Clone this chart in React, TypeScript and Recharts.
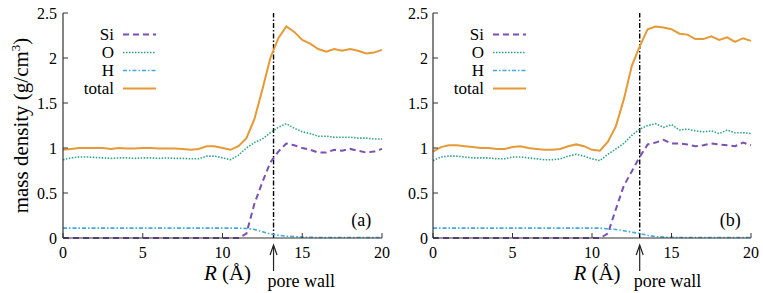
import React from 'react';
import { LineChart, Line, XAxis, YAxis, ReferenceLine, ReferenceDot } from 'recharts';

const FONT = "'Liberation Serif', 'DejaVu Serif', 'Times New Roman', Times, serif";
const FRAME = '#333';

// radial distance R (Å)
const R = [
  0, 0.5, 1, 1.5, 2, 2.5, 3, 3.5, 4, 4.5, 5, 5.5, 6, 6.5, 7, 7.5, 8, 8.5, 9, 9.5,
  10, 10.5, 11, 11.5, 12, 12.5, 13, 13.5, 14, 14.5, 15, 15.5, 16, 16.5, 17, 17.5, 18, 18.5, 19, 19.5, 20,
];

// panel (a)
const siA = [
  0, 0, 0, 0, 0, 0, 0, 0, 0, 0, 0, 0, 0, 0, 0, 0, 0, 0, 0, 0, 0, 0, 0,
  0.05, 0.38, 0.62, 0.84, 0.96, 1.05, 1.03, 1.0, 0.98, 0.95, 0.95, 0.98, 0.97, 0.99, 0.97, 0.95, 0.96, 0.99,
];
const oA = [
  0.87, 0.89, 0.9, 0.9, 0.895, 0.89, 0.885, 0.89, 0.89, 0.885, 0.89, 0.89, 0.885, 0.89, 0.885, 0.885, 0.88, 0.88, 0.91, 0.91,
  0.89, 0.87, 0.92, 1.0, 1.06, 1.1, 1.17, 1.23, 1.27, 1.22, 1.18, 1.16, 1.13, 1.13, 1.12, 1.12, 1.12, 1.11, 1.11, 1.1, 1.1,
];
const hA = [
  0.11, 0.11, 0.11, 0.11, 0.11, 0.11, 0.11, 0.11, 0.11, 0.11, 0.11, 0.11, 0.11, 0.11, 0.11, 0.11, 0.11, 0.11, 0.11, 0.11,
  0.11, 0.11, 0.11, 0.105, 0.095, 0.07, 0.045, 0.03, 0.02, 0.015, 0.01, 0.008,
  0.005, 0.005, 0.005, 0.005, 0.005, 0.005, 0.005, 0.005, 0.005,
];
const totalA = [
  0.98, 0.99, 1.0, 1.0, 1.0, 1.0, 0.99, 1.0, 0.995, 0.995, 1.0, 1.0, 0.995, 0.995, 0.995, 0.99, 0.98, 0.99, 1.02, 1.02,
  1.0, 0.98, 1.02, 1.11, 1.32, 1.65, 2.0, 2.22, 2.35, 2.29, 2.2, 2.16, 2.1, 2.07, 2.1, 2.08, 2.1, 2.08, 2.05, 2.06, 2.09,
];

// panel (b)
const siB = [
  0, 0, 0, 0, 0, 0, 0, 0, 0, 0, 0, 0, 0, 0, 0, 0, 0, 0, 0, 0, 0, 0,
  0.05, 0.32, 0.58, 0.74, 0.9, 1.04, 1.06, 1.09, 1.05, 1.05, 1.04, 1.02, 1.03, 1.05, 1.04, 1.03, 1.02, 1.06, 1.03,
];
const oB = [
  0.86, 0.9, 0.91, 0.91, 0.9, 0.89, 0.89, 0.89, 0.88, 0.88, 0.9, 0.9, 0.89, 0.88, 0.87, 0.87, 0.88, 0.91, 0.93, 0.91,
  0.88, 0.86, 0.93, 0.99, 1.05, 1.14, 1.21, 1.25, 1.27, 1.23, 1.26, 1.2, 1.21, 1.19, 1.18, 1.19, 1.16, 1.2, 1.17, 1.17, 1.16,
];
const hB = [
  0.11, 0.11, 0.11, 0.11, 0.11, 0.11, 0.11, 0.11, 0.11, 0.11, 0.11, 0.11, 0.11, 0.11, 0.11, 0.11, 0.11, 0.11, 0.11, 0.11,
  0.11, 0.11, 0.1, 0.095, 0.08, 0.065, 0.05, 0.03, 0.015, 0.01, 0.008,
  0.005, 0.005, 0.005, 0.005, 0.005, 0.005, 0.005, 0.005, 0.005, 0.005,
];
const totalB = [
  0.96, 1.01, 1.03, 1.03, 1.02, 1.01, 1.0, 1.0, 0.99, 0.99, 1.01, 1.02, 1.0, 0.99, 0.98, 0.98, 0.99, 1.02, 1.04, 1.02,
  0.98, 0.97, 1.07, 1.24, 1.54, 1.91, 2.13, 2.32, 2.35, 2.34, 2.32, 2.27, 2.26, 2.21, 2.21, 2.24, 2.2, 2.23, 2.18, 2.22, 2.19,
];

const xTicks = [0, 5, 10, 15, 20];
const yTicks = [0, 0.5, 1, 1.5, 2, 2.5];

const series = [
  { key: 'si', name: 'Si', color: '#7b4fb5', dash: '6 4', width: 2 },
  { key: 'o', name: 'O', color: '#2fa57c', dash: '1.5 1.5', width: 1.6 },
  { key: 'h', name: 'H', color: '#3fa9e0', dash: '4 2 1.5 2', width: 1.6 },
  { key: 'total', name: 'total', color: '#e69a35', dash: undefined, width: 2 },
];

const build = (si: number[], o: number[], h: number[], total: number[]) =>
  R.map((r, i) => ({ r, si: si[i], o: o[i], h: h[i], total: total[i] }));

const dataA = build(siA, oA, hA, totalA);
const dataB = build(siB, oB, hB, totalB);

const PoreWall = (props: any) => {
  const { viewBox } = props;
  const x = viewBox.x;
  const bottom = viewBox.y + viewBox.height;
  return (
    <g>
      <line x1={x} y1={bottom + 8} x2={x} y2={bottom + 33} stroke="#222" strokeWidth={1.2} />
      <path
        d={`M${x - 3.5},${bottom + 17} L${x},${bottom + 7} L${x + 3.5},${bottom + 17}`}
        fill="none"
        stroke="#222"
        strokeWidth={1.2}
      />
      <text x={x - 6} y={bottom + 49} fontSize={18} fontFamily={FONT} fill="#000">
        pore wall
      </text>
    </g>
  );
};

const YLabel = (props: any) => {
  const { viewBox } = props;
  const cx = viewBox.x + 28;
  const cy = viewBox.y + viewBox.height / 2;
  return (
    <text
      x={cx}
      y={cy}
      transform={`rotate(-90, ${cx}, ${cy})`}
      textAnchor="middle"
      fontSize={21}
      fontFamily={FONT}
      fill="#000"
    >
      mass density (g/cm
      <tspan dy={-8} fontSize={13}>3</tspan>
      <tspan dy={8}>)</tspan>
    </text>
  );
};

const XLabel = (props: any) => {
  const { viewBox } = props;
  return (
    <text
      x={viewBox.x + viewBox.width / 2 + 5}
      y={viewBox.y + 42}
      textAnchor="middle"
      fontSize={21}
      fontFamily={FONT}
      fill="#000"
    >
      <tspan fontStyle="italic">R</tspan> (Å)
    </text>
  );
};

const LegendBox = ({ left, top }: { left: number; top: number }) => (
  <svg
    width={110}
    height={95}
    style={{ position: 'absolute', left, top, overflow: 'visible' }}
  >
    {series.map((s, i) => (
      <g key={s.key}>
        <text
          x={51}
          y={27 + i * 18}
          textAnchor="end"
          fontSize={17}
          fontFamily={FONT}
          fill="#000"
        >
          {s.name}
        </text>
        <line
          x1={60}
          x2={93}
          y1={21.5 + i * 18}
          y2={21.5 + i * 18}
          stroke={s.color}
          strokeWidth={s.width}
          strokeDasharray={s.dash}
        />
      </g>
    ))}
  </svg>
);

interface PanelProps {
  data: any[];
  left: number;
  width: number;
  yAxisWidth: number;
  rightMargin: number;
  wall: number;
  tag: string;
  showYLabel: boolean;
  yTickMargin: number;
}

const Panel: React.FC<PanelProps> = ({ data, left, width, yAxisWidth, rightMargin, wall, tag, showYLabel, yTickMargin }) => {
  const tickStyle = { fill: '#000', fontSize: 16, fontFamily: FONT };
  return (
    <div style={{ position: 'absolute', left, top: 0, width, height: 293 }}>
      <LineChart
        width={width}
        height={293}
        data={data}
        margin={{ top: 13, right: rightMargin, bottom: 25, left: 0 }}
        style={{ fontFamily: FONT }}
      >
        <XAxis
          dataKey="r"
          type="number"
          domain={[0, 20]}
          ticks={xTicks}
          interval={0}
          height={30}
          tickSize={-5}
          tickMargin={14}
          axisLine={{ stroke: FRAME, strokeWidth: 1.2 }}
          tickLine={{ stroke: FRAME }}
          tick={tickStyle}
          label={XLabel}
        />
        <XAxis
          xAxisId="top"
          dataKey="r"
          type="number"
          orientation="top"
          domain={[0, 20]}
          ticks={xTicks}
          interval={0}
          height={0}
          tickSize={-5}
          tickFormatter={() => ''}
          axisLine={{ stroke: FRAME, strokeWidth: 1.2 }}
          tickLine={{ stroke: FRAME }}
        />
        <YAxis
          type="number"
          domain={[0, 2.5]}
          ticks={yTicks}
          interval={0}
          width={yAxisWidth}
          tickSize={-5}
          tickMargin={yTickMargin}
          axisLine={{ stroke: FRAME, strokeWidth: 1.2 }}
          tickLine={{ stroke: FRAME }}
          tick={tickStyle}
          label={showYLabel ? YLabel : undefined}
        />
        <YAxis
          yAxisId="right"
          type="number"
          orientation="right"
          domain={[0, 2.5]}
          ticks={yTicks}
          interval={0}
          width={0}
          tickSize={-5}
          tickFormatter={() => ''}
          axisLine={{ stroke: FRAME, strokeWidth: 1.2 }}
          tickLine={{ stroke: FRAME }}
        />
        <ReferenceLine
          x={wall}
          stroke="#000"
          strokeWidth={1.4}
          strokeDasharray="5 2 1.5 2"
          label={PoreWall}
        />
        <ReferenceDot
          x={18.7}
          y={0.2}
          r={1}
          fill="none"
          stroke="none"
          label={{ value: tag, position: 'center', fontSize: 18, fontFamily: FONT, fill: '#000' }}
        />
        {series.map((s) => (
          <Line
            key={s.key}
            dataKey={s.key}
            name={s.name}
            type="linear"
            stroke={s.color}
            strokeWidth={s.width}
            strokeDasharray={s.dash}
            dot={false}
            isAnimationActive={false}
          />
        ))}
      </LineChart>
      <LegendBox left={yAxisWidth} top={13} />
    </div>
  );
};

export default function App() {
  return (
    <div style={{ position: 'absolute', left: 0, top: 0, width: 763, height: 293, background: '#fff', fontFamily: FONT }}>
      <Panel data={dataA} left={0} width={400} yAxisWidth={63} rightMargin={18} wall={13.2} tag="(a)" showYLabel yTickMargin={11} />
      <Panel data={dataB} left={390} width={373} yAxisWidth={43} rightMargin={12} wall={13} tag="(b)" showYLabel={false} yTickMargin={10} />
    </div>
  );
}
